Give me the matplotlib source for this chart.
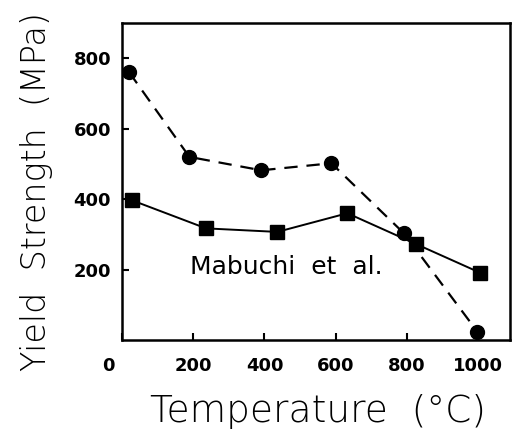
import matplotlib
matplotlib.use("Agg")
import matplotlib.pyplot as plt
import matplotlib.transforms as mtransforms

# Data
circ_T = [20, 189, 391, 588, 792, 998]
circ_ys = [760, 520, 482, 502, 303, 24]
sq_T = [27, 236, 436, 633, 827, 1006]
sq_ys = [397, 317, 307, 360, 272, 191]
xticks = [0, 200, 400, 600, 800, 1000]
yticks = [200, 400, 600, 800]
annotation = "Mabuchi  et  al."

fig = plt.figure(figsize=(5.22, 4.45), dpi=100)
ax = fig.add_axes([0.234, 0.236, 0.743, 0.712])

ax.plot(circ_T, circ_ys, color="black", lw=1.6, ls=(0, (6, 4)),
        marker="o", ms=10, mfc="black", mec="black")
ax.plot(sq_T, sq_ys, color="black", lw=1.4, ls="-",
        marker="s", ms=10.5, mfc="black", mec="black")

ax.set_xlim(0, 1090)
ax.set_ylim(0, 900)
ax.set_xticks(xticks)
ax.set_yticks(yticks)
ax.tick_params(direction="in", length=5, width=1.5, labelsize=13, pad=8)
ax.tick_params(axis="x", pad=12)
ax.set_xticklabels([str(v) for v in xticks], fontweight="bold")
ax.set_yticklabels([str(v) for v in yticks], fontweight="bold")
# shift the "0" label left as in the reference
lbl0 = ax.get_xticklabels()[0]
lbl0.set_transform(lbl0.get_transform() + mtransforms.ScaledTranslation(-14/100, 0, fig.dpi_scale_trans))

for s in ax.spines.values():
    s.set_linewidth(1.8)

ax.text(462, 207, annotation, fontsize=18, ha="center", va="center",
        family="DejaVu Sans")

fig.text(0.61, 0.075, "Temperature  (°C)", fontsize=27, ha="center", va="center",
         family="DejaVu Sans", fontweight="light")
fig.text(0.07, 0.57, "Yield  Strength  (MPa)", fontsize=24, ha="center", va="center",
         rotation=90, family="DejaVu Sans", fontweight="light")

fig.savefig("out.png", dpi=100)
